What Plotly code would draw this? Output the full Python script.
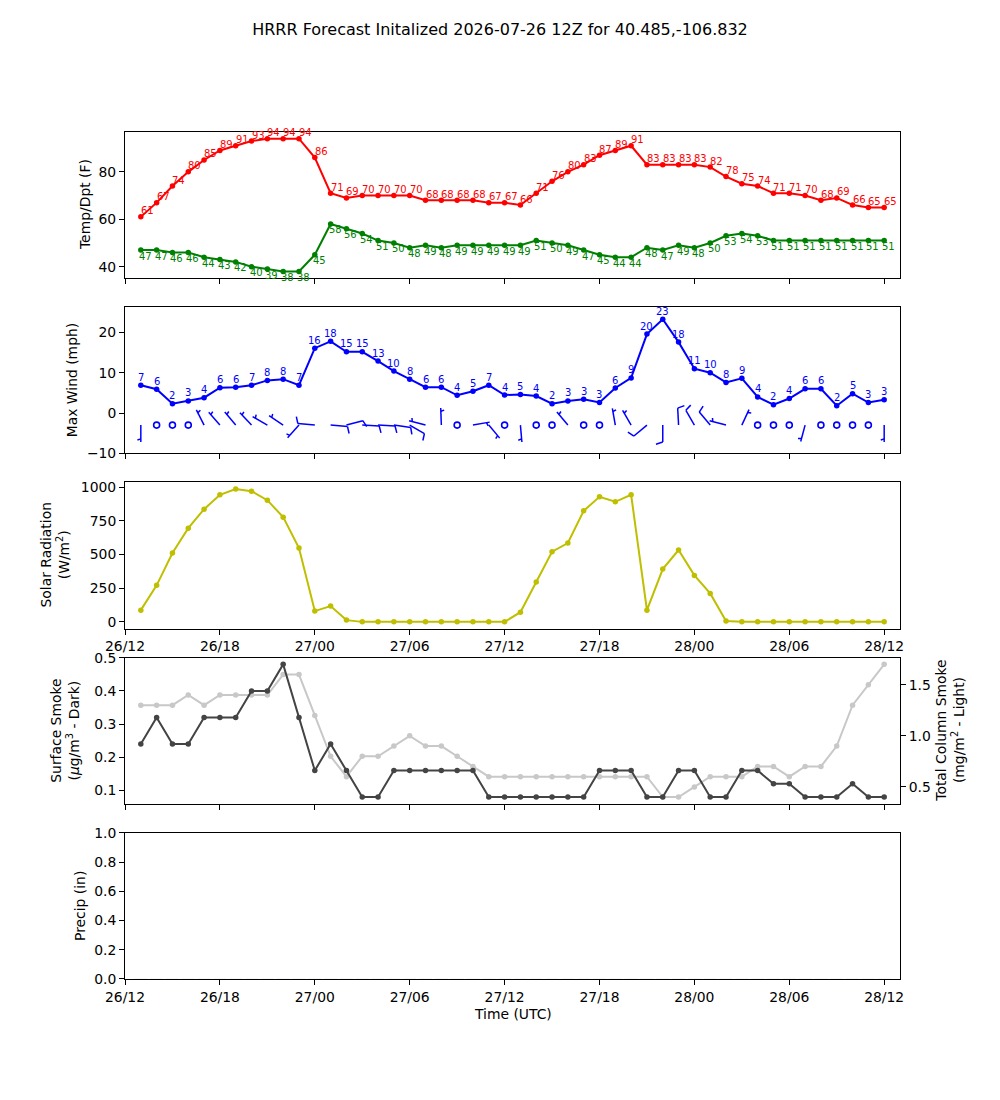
import math
import pandas as pd
import plotly.graph_objects as go

# ---------------- data ----------------
times = pd.date_range("2026-07-26 13:00", periods=48, freq="h")
tick_times = pd.date_range("2026-07-26 12:00", periods=9, freq="6h")
tick_labels = ["26/12", "26/18", "27/00", "27/06", "27/12", "27/18", "28/00", "28/06", "28/12"]

temp_f = [61, 67, 74, 80, 85, 89, 91, 93, 94, 94, 94, 86, 71, 69, 70, 70, 70, 70, 68, 68, 68, 68, 67, 67,
          66, 71, 76, 80, 83, 87, 89, 91, 83, 83, 83, 83, 82, 78, 75, 74, 71, 71, 70, 68, 69, 66, 65, 65]
dewpt_f = [47, 47, 46, 46, 44, 43, 42, 40, 39, 38, 38, 45, 58, 56, 54, 51, 50, 48, 49, 48, 49, 49, 49, 49,
           49, 51, 50, 49, 47, 45, 44, 44, 48, 47, 49, 48, 50, 53, 54, 53, 51, 51, 51, 51, 51, 51, 51, 51]
max_wind_mph = [6.9, 5.9, 2.3, 3.0, 3.8, 6.3, 6.4, 6.9, 8.1, 8.4, 6.9, 16.1, 17.8, 15.2, 15.2, 12.9, 10.4, 8.4,
                6.4, 6.4, 4.4, 5.4, 6.9, 4.45, 4.6, 4.2, 2.3, 3.0, 3.4, 2.6, 6.2, 8.7, 19.6, 23.3, 17.6, 11.0,
                10.0, 7.6, 8.6, 4.0, 2.05, 3.6, 6.0, 6.0, 1.8, 4.8, 2.6, 3.3]
wind_dir_deg = [180, 0, 0, 0, 333, 319, 320, 317, 300, 304, 222, 275, 95, 75, 93, 93, 98, 120,
                285, 358, 0, 80, 140, 0, 175, 0, 0, 320, 0, 0, 350, 330, 230, 180, 357, 330,
                320, 285, 25, 0, 0, 0, 195, 0, 0, 0, 0, 180]
wind_kt = [5, 0, 0, 0, 5, 5, 5, 5, 5, 5, 5, 10, 10, 10, 10, 10, 10, 10,
           5, 5, 0, 5, 5, 0, 5, 0, 0, 5, 0, 0, 5, 5, 10, 10, 10, 10,
           10, 5, 5, 0, 0, 0, 5, 0, 0, 0, 0, 5]
solar_wm2 = [87, 271, 511, 695, 836, 943, 985, 970, 903, 777, 548, 80, 117, 13, 0, 0, 0, 0, 0, 0, 0, 0, 0, 0,
             72, 295, 521, 585, 824, 928, 891, 943, 87, 392, 533, 345, 211, 7, 0, 0, 0, 0, 0, 0, 0, 0, 0, 0]
sfc_smoke = [0.24, 0.32, 0.24, 0.24, 0.32, 0.32, 0.32, 0.40, 0.40, 0.48, 0.32, 0.16, 0.24, 0.16, 0.08, 0.08,
             0.16, 0.16, 0.16, 0.16, 0.16, 0.16, 0.08, 0.08, 0.08, 0.08, 0.08, 0.08, 0.08, 0.16, 0.16, 0.16,
             0.08, 0.08, 0.16, 0.16, 0.08, 0.08, 0.16, 0.16, 0.12, 0.12, 0.08, 0.08, 0.08, 0.12, 0.08, 0.08]
col_smoke = [1.30, 1.30, 1.30, 1.40, 1.30, 1.40, 1.40, 1.40, 1.40, 1.60, 1.60, 1.20, 0.80, 0.60, 0.80, 0.80,
             0.90, 1.00, 0.90, 0.90, 0.80, 0.70, 0.60, 0.60, 0.60, 0.60, 0.60, 0.60, 0.60, 0.60, 0.60, 0.60,
             0.60, 0.40, 0.40, 0.50, 0.60, 0.60, 0.60, 0.70, 0.70, 0.60, 0.70, 0.70, 0.90, 1.30, 1.50, 1.70]
precip_in = [0.0] * 48

# ---------------- layout geometry ----------------
FONT = "DejaVu Sans"
W, H = 1000, 1100
L_PX, R_PX, T_PX, B_PX = 125, 900, 132, 979
PW, PH = R_PX - L_PX, B_PX - T_PX
row_h = PH / 5.8
gap = 0.2 * row_h


def row_px(k):
    t = T_PX + k * (row_h + gap)
    return t, t + row_h


def dom(k):
    t, b = row_px(k)
    return [(B_PX - b) / PH, (B_PX - t) / PH]


x_range = [pd.Timestamp("2026-07-26 12:00"), pd.Timestamp("2026-07-28 13:00")]
wind_range = [-10, 26.26]
temp_range = [35.2, 96.8]
solar_range = [-49.3, 1034.3]
sfc_range = [0.06, 0.50]
col_range = [0.335, 1.765]

fig = go.Figure()

# Temperature / dewpoint
fig.add_trace(go.Scatter(x=times, y=temp_f, mode="lines+markers", xaxis="x", yaxis="y",
                         line=dict(color="#ff0000", width=2), marker=dict(size=5.5, color="#ff0000"),
                         showlegend=False))
fig.add_trace(go.Scatter(x=times, y=dewpt_f, mode="lines+markers", xaxis="x", yaxis="y",
                         line=dict(color="#008000", width=2), marker=dict(size=5.5, color="#008000"),
                         showlegend=False))

# Wind barbs
t0, t1 = row_px(1)
px_per_ms = PW / ((x_range[1] - x_range[0]).total_seconds() * 1000.0)
px_per_unit = (t1 - t0) / (wind_range[1] - wind_range[0])
BARB_Y = -3
BL = 17.0
bx, by = [], []
calm_x, calm_y = [], []


def to_data(t, dx, dy):
    return t + pd.Timedelta(milliseconds=dx / px_per_ms), BARB_Y + dy / px_per_unit


for t, d, k in zip(times, wind_dir_deg, wind_kt):
    spd = 5 * round(k / 5)
    if spd == 0:
        calm_x.append(t)
        calm_y.append(BARB_Y)
        continue
    th = math.radians(d)
    s = (math.sin(th), math.cos(th))
    r = (math.cos(th), -math.sin(th))
    segs = [((0, 0), (BL * s[0], BL * s[1]))]
    off = BL
    nfull = spd // 10
    half = (spd % 10) >= 5
    for _ in range(nfull):
        a = (off * s[0], off * s[1])
        b = ((off + 0.125 * BL) * s[0] + 0.4 * BL * r[0], (off + 0.125 * BL) * s[1] + 0.4 * BL * r[1])
        segs.append((a, b))
        off -= 0.125 * BL
    if half:
        if nfull == 0:
            off -= 0.1875 * BL
        a = (off * s[0], off * s[1])
        b = ((off + 0.0625 * BL) * s[0] + 0.2 * BL * r[0], (off + 0.0625 * BL) * s[1] + 0.2 * BL * r[1])
        segs.append((a, b))
    for a, b in segs:
        xa, ya = to_data(t, *a)
        xb, yb = to_data(t, *b)
        bx += [xa, xb, None]
        by += [ya, yb, None]

fig.add_trace(go.Scatter(x=bx, y=by, mode="lines", xaxis="x2", yaxis="y2",
                         line=dict(color="#0000ff", width=1.5), showlegend=False, hoverinfo="skip"))
fig.add_trace(go.Scatter(x=calm_x, y=calm_y, mode="markers", xaxis="x2", yaxis="y2",
                         marker=dict(symbol="circle-open", size=6, color="#0000ff", line=dict(width=1.6)),
                         showlegend=False))
fig.add_trace(go.Scatter(x=times, y=max_wind_mph, mode="lines+markers", xaxis="x2", yaxis="y2",
                         line=dict(color="#0000ff", width=2), marker=dict(size=5.5, color="#0000ff"),
                         showlegend=False))

# Solar
fig.add_trace(go.Scatter(x=times, y=solar_wm2, mode="lines+markers", xaxis="x3", yaxis="y3",
                         line=dict(color="#bfbf00", width=2), marker=dict(size=5.5, color="#bfbf00"),
                         showlegend=False))

# Smoke: light (column) on base axis, dark (surface) on overlay so it sits on top
fig.add_trace(go.Scatter(x=times, y=col_smoke, mode="lines+markers", xaxis="x4", yaxis="y4",
                         line=dict(color="#c8c8c8", width=2), marker=dict(size=5.5, color="#c8c8c8"),
                         showlegend=False))
fig.add_trace(go.Scatter(x=times, y=sfc_smoke, mode="lines+markers", xaxis="x4", yaxis="y6",
                         line=dict(color="#444444", width=2), marker=dict(size=5.5, color="#444444"),
                         showlegend=False))

# Precip
fig.add_trace(go.Bar(x=times, y=precip_in, xaxis="x5", yaxis="y5", marker=dict(color="#1f77b4"),
                     showlegend=False))

tickfont = dict(family=FONT, size=13.9, color="black")
common = dict(showline=True, linecolor="black", linewidth=1, mirror=True, ticks="outside", ticklen=5,
              tickwidth=1, tickcolor="black", showgrid=False, zeroline=False, tickfont=tickfont)


def xax(k, labels):
    return dict(common, domain=[0, 1], anchor="y" if k == 0 else f"y{k + 1}", range=x_range,
                tickmode="array", tickvals=list(tick_times), ticktext=tick_labels,
                showticklabels=labels)


layout = dict(
    width=W, height=H, plot_bgcolor="white", paper_bgcolor="white",
    margin=dict(l=L_PX, r=W - R_PX, t=T_PX, b=H - B_PX, pad=0),
    font=dict(family=FONT, color="black"),
    bargap=0.2,
    title=dict(text="HRRR Forecast Initalized 2026-07-26 12Z for 40.485,-106.832", x=0.5, xref="container",
               xanchor="center", y=1 - 29 / H, yref="container", yanchor="middle",
               font=dict(family=FONT, size=16, color="black")),
    xaxis=xax(0, False), xaxis2=xax(1, False), xaxis3=xax(2, True), xaxis4=xax(3, False), xaxis5=xax(4, True),
    yaxis=dict(common, domain=dom(0), anchor="x", range=temp_range, tickvals=[40, 60, 80]),
    yaxis2=dict(common, domain=dom(1), anchor="x2", range=wind_range, tickvals=[-10, 0, 10, 20]),
    yaxis3=dict(common, domain=dom(2), anchor="x3", range=solar_range, tickvals=[0, 250, 500, 750, 1000]),
    yaxis4=dict(common, domain=dom(3), anchor="x4", side="right", range=col_range,
                tickvals=[0.5, 1.0, 1.5], tickformat=".1f"),
    yaxis6=dict(common, overlaying="y4", anchor="x4", side="left", range=sfc_range,
                tickvals=[0.1, 0.2, 0.3, 0.4, 0.5], tickformat=".1f"),
    yaxis5=dict(common, domain=dom(4), anchor="x5", range=[0, 1], tickvals=[0, 0.2, 0.4, 0.6, 0.8, 1.0],
                tickformat=".1f"),
)


def row_center_paper(k):
    t, b = row_px(k)
    return (B_PX - (t + b) / 2) / PH


def px_x(p):
    return (p - L_PX) / PW


lab_font = dict(family=FONT, size=13.9, color="black")
annotations = [
    dict(text="Temp/Dpt (F)", x=px_x(85), y=row_center_paper(0)),
    dict(text="Max Wind (mph)", x=px_x(72), y=row_center_paper(1)),
    dict(text="Solar Radiation<br>(W/m<sup>2</sup>)", x=px_x(54), y=row_center_paper(2)),
    dict(text="Surface Smoke<br>(<i>μ</i>g/m<sup>3</sup> - Dark)", x=px_x(65), y=row_center_paper(3)),
    dict(text="Total Column Smoke<br>(mg/m<sup>2</sup> - Light)", x=px_x(950), y=row_center_paper(3)),
    dict(text="Precip (in)", x=px_x(80), y=row_center_paper(4)),
]
for a in annotations:
    a.update(xref="paper", yref="paper", textangle=-90, showarrow=False, xanchor="center", yanchor="middle",
             font=lab_font)
annotations.append(dict(text="Time (UTC)", x=px_x(512.5), y=(B_PX - 1014) / PH, xref="paper", yref="paper",
                        showarrow=False, xanchor="center", yanchor="middle", font=lab_font))

# data value labels
LBL = 10
for t, v in zip(times, temp_f):
    annotations.append(dict(text=f"{v:.0f}", x=t, y=v, xref="x", yref="y", showarrow=False,
                            xanchor="left", yanchor="middle", xshift=-1, yshift=6, borderpad=0,
                            font=dict(family=FONT, size=LBL, color="#ff0000")))
for t, v in zip(times, dewpt_f):
    annotations.append(dict(text=f"{v:.0f}", x=t, y=v, xref="x", yref="y", showarrow=False,
                            xanchor="left", yanchor="middle", xshift=-3, yshift=-6, borderpad=0,
                            font=dict(family=FONT, size=LBL, color="#008000")))
for t, v in zip(times, max_wind_mph):
    annotations.append(dict(text=f"{v:.0f}", x=t, y=v, xref="x2", yref="y2", showarrow=False,
                            xanchor="center", yanchor="middle", xshift=0, yshift=8, borderpad=0,
                            font=dict(family=FONT, size=LBL, color="#0000ff")))
layout["annotations"] = annotations

fig.update_layout(**layout)
fig.write_html("out.html")
